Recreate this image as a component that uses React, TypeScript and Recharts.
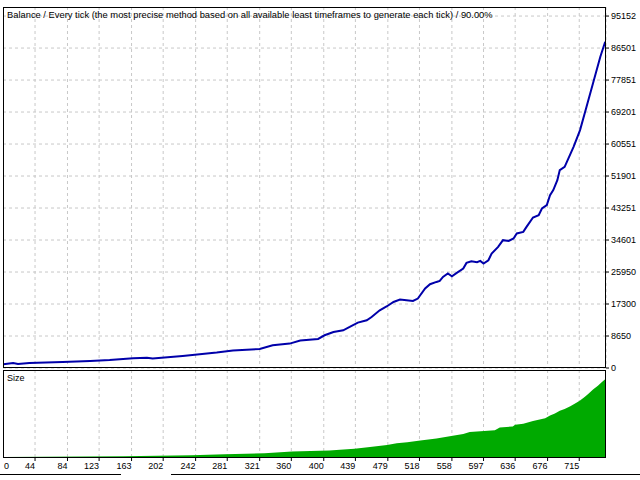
import React from 'react';
import {
  LineChart,
  Line,
  AreaChart,
  Area,
  XAxis,
  YAxis,
  CartesianGrid,
} from 'recharts';

// trade number -> balance
const balanceTrades = [
  5, 17, 23, 37, 78, 112, 136, 165, 182, 189,
  226, 247, 268, 288, 321, 337, 358, 371, 393, 401,
  412, 424, 432, 442, 453, 459, 469, 478, 486, 494,
  502, 510, 516, 525, 531, 539, 543, 547, 553, 558,
  564, 572, 576, 582, 589, 593, 597, 603, 607, 615,
  621, 628, 634, 638, 646, 650, 658, 665, 669, 675,
  679, 683, 688, 691, 697, 708, 716, 724, 732, 741,
  747,
];
const balanceValues = [
  1000, 1350, 1100, 1350, 1620, 1900, 2160, 2620, 2800, 2540,
  3250, 3700, 4160, 4700, 5140, 6140, 6600, 7410, 7850, 8850,
  9740, 10200, 11090, 12280, 12910, 13800, 15610, 16700, 17860, 18510,
  18320, 18130, 18780, 21490, 22650, 23270, 23540, 24620, 25540, 24810,
  25710, 26900, 28410, 28870, 28600, 28950, 28250, 29140, 30960, 32740,
  34560, 34370, 35020, 36370, 36800, 38150, 40700, 41320, 43130, 44030,
  46730, 48090, 50790, 53500, 54390, 59800, 64320, 70630, 76960, 84160,
  88220,
];

// trade number -> lot size
const sizeTrades = [
  5, 153, 237, 278, 327, 361, 407, 420, 438, 457,
  478, 490, 503, 519, 539, 559, 572, 580, 611, 617,
  633, 636, 646, 658, 673, 679, 685, 691, 697, 704,
  712, 716, 722, 726, 732, 738, 743, 747, 749,
];
const sizeLots = [
  0.01, 0.02, 0.03, 0.04, 0.05, 0.07, 0.08, 0.09, 0.1, 0.12,
  0.14, 0.16, 0.17, 0.19, 0.21, 0.24, 0.26, 0.28, 0.3, 0.33,
  0.34, 0.36, 0.37, 0.4, 0.43, 0.46, 0.48, 0.51, 0.53, 0.56,
  0.6, 0.62, 0.66, 0.69, 0.74, 0.78, 0.82, 0.85, 0.87,
];

const balanceTicks = [0, 8650, 17300, 25950, 34601, 43251, 51901, 60551, 69201, 77851, 86501, 95152];
const tradeTicks = [0, 44, 84, 123, 163, 202, 242, 281, 321, 360, 400, 439, 479, 518, 558, 597, 636, 676, 715];

const title =
  'Balance / Every tick (the most precise method based on all available least timeframes to generate each tick) / 90.00%';

const FONT = '"Liberation Sans", Arial, sans-serif';
const GRID = '#c8c8c8';

const balanceData = balanceTrades.map((t, i) => ({ trade: t, balance: balanceValues[i] }));
const sizeData = sizeTrades.map((t, i) => ({ trade: t, size: sizeLots[i] }));

const xDomain: [number, number] = [4.5, 748];

function TradeTick(props: any) {
  const { x, y, payload, index } = props;
  const first = index === 0;
  return (
    <text
      x={first ? x + 4.7 : x}
      y={y}
      dy={6}
      textAnchor={first ? 'start' : 'end'}
      fontSize={9}
      fontFamily={FONT}
      fill="#000"
    >
      {payload.value}
    </text>
  );
}

export default function App() {
  return (
    <div
      style={{
        position: 'absolute',
        left: 0,
        top: 0,
        width: 640,
        height: 480,
        background: '#fff',
        fontFamily: FONT,
        overflow: 'hidden',
      }}
    >
      {/* balance panel */}
      <div style={{ position: 'absolute', left: 3, top: 7 }}>
        <LineChart
          width={637}
          height={367}
          data={balanceData}
          margin={{ top: 0, right: 0, bottom: 6, left: 0 }}
        >
          <CartesianGrid stroke={GRID} strokeDasharray="3 3" />
          <XAxis
            dataKey="trade"
            type="number"
            domain={xDomain}
            ticks={tradeTicks.slice(1)}
            allowDataOverflow
            hide
          />
          <YAxis
            orientation="right"
            width={34}
            domain={[0, 97600]}
            ticks={balanceTicks}
            interval={0}
            axisLine={false}
            tickSize={3}
            tickMargin={2}
            tickLine={{ stroke: '#000' }}
            tick={{ fontSize: 9, fill: '#000', fontFamily: FONT, textAnchor: 'start' }}
          />
          <Line
            type="linear"
            dataKey="balance"
            stroke="#0000aa"
            strokeWidth={2}
            dot={false}
            isAnimationActive={false}
          />
        </LineChart>
      </div>
      <div
        style={{
          position: 'absolute',
          left: 3,
          top: 7,
          width: 603,
          height: 361,
          border: '1px solid #000',
          boxSizing: 'border-box',
        }}
      />
      <div style={{ position: 'absolute', left: 7, top: 10, fontSize: 9.35, lineHeight: '11px', color: '#000', whiteSpace: 'nowrap' }}>
        {title}
      </div>

      {/* size panel */}
      <div style={{ position: 'absolute', left: 3, top: 370 }}>
        <AreaChart
          width={603}
          height={108}
          data={sizeData}
          margin={{ top: 0, right: 0, bottom: 0, left: 0 }}
        >
          <CartesianGrid stroke={GRID} strokeDasharray="3 3" horizontal={false} />
          <XAxis
            dataKey="trade"
            type="number"
            domain={xDomain}
            ticks={tradeTicks}
            interval={0}
            allowDataOverflow
            height={20}
            axisLine={false}
            tickSize={3}
            tickMargin={2}
            tickLine={{ stroke: '#000' }}
            tick={<TradeTick />}
          />
          <YAxis hide domain={[0, 0.95]} />
          <Area
            type="linear"
            dataKey="size"
            stroke="none"
            fill="#00aa00"
            fillOpacity={1}
            isAnimationActive={false}
          />
        </AreaChart>
      </div>
      <div
        style={{
          position: 'absolute',
          left: 3,
          top: 370,
          width: 603,
          height: 88,
          border: '1px solid #000',
          boxSizing: 'border-box',
        }}
      />
      <div style={{ position: 'absolute', left: 7, top: 373, fontSize: 9, lineHeight: '11px', color: '#000' }}>
        Size
      </div>

      {/* strip under the trade axis */}
      <div style={{ position: 'absolute', left: 0, top: 474, width: 121, height: 1, background: '#000' }} />
      <div style={{ position: 'absolute', left: 171, top: 474, width: 469, height: 1, background: '#000' }} />
    </div>
  );
}
